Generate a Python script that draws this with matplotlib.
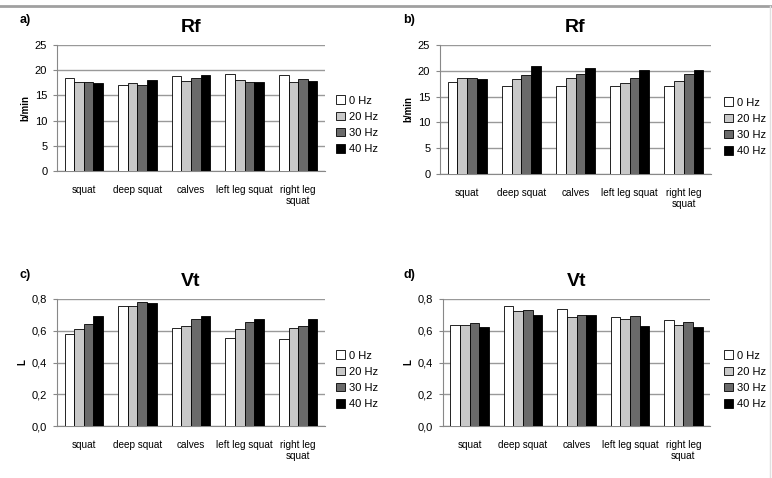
import matplotlib
matplotlib.use("Agg")
import matplotlib.pyplot as plt
import numpy as np
from matplotlib.patches import Patch

plt.rcParams['font.family'] = ['Liberation Sans', 'DejaVu Sans']

categories = ["squat", "deep squat", "calves", "left leg squat", "right leg\nsquat"]
series = ["0 Hz", "20 Hz", "30 Hz", "40 Hz"]
colors = ["#ffffff", "#c8c8c8", "#6a6a6a", "#000000"]

# values per category: [0 Hz, 20 Hz, 30 Hz, 40 Hz]
rf_a = [[18.5, 17.6, 17.6, 17.4],
        [17.1, 17.5, 17.1, 18.0],
        [18.8, 17.8, 18.4, 19.0],
        [19.2, 18.1, 17.7, 17.6],
        [19.0, 17.7, 18.2, 17.9]]
rf_b = [[17.9, 18.6, 18.6, 18.5],
        [17.1, 18.5, 19.2, 20.9],
        [17.1, 18.6, 19.3, 20.5],
        [17.1, 17.7, 18.6, 20.2],
        [17.0, 18.0, 19.3, 20.2]]
vt_c = [[0.581, 0.612, 0.642, 0.693],
        [0.758, 0.754, 0.781, 0.777],
        [0.616, 0.631, 0.676, 0.696],
        [0.555, 0.612, 0.657, 0.674],
        [0.547, 0.616, 0.632, 0.674]]
vt_d = [[0.635, 0.635, 0.647, 0.625],
        [0.755, 0.727, 0.731, 0.697],
        [0.740, 0.688, 0.701, 0.697],
        [0.686, 0.675, 0.690, 0.632],
        [0.666, 0.636, 0.655, 0.625]]

rf_ticks = [0, 5, 10, 15, 20, 25]
rf_ticklabels = ["0", "5", "10", "15", "20", "25"]
vt_ticks = [0.0, 0.2, 0.4, 0.6, 0.8]
vt_ticklabels = ["0,0", "0,2", "0,4", "0,6", "0,8"]

fig = plt.figure(figsize=(7.72, 4.78), dpi=100)
W, H = 772, 478

def ax_rect(l, r, top, bot):
    return [l / W, 1 - bot / H, (r - l) / W, (bot - top) / H]

panels = [
    ("a)", "Rf", rf_a, rf_ticks, rf_ticklabels, 25, "b/min", ax_rect(57, 325, 45, 171), (338, 99), (20, 20)),
    ("b)", "Rf", rf_b, rf_ticks, rf_ticklabels, 25, "b/min", ax_rect(440, 711, 45, 174), (726, 101), (403, 20)),
    ("c)", "Vt", vt_c, vt_ticks, vt_ticklabels, 0.8, "L", ax_rect(57, 325, 299, 426), (338, 354), (20, 275)),
    ("d)", "Vt", vt_d, vt_ticks, vt_ticklabels, 0.8, "L", ax_rect(443, 710, 299, 426), (726, 354), (403, 275)),
]

x = np.arange(len(categories))
bw = 0.18
for label, title, data, ticks, tlabels, ymax, ylab, rect, legpos, labpos in panels:
    ax = fig.add_axes(rect)
    arr = np.array(data)
    for i, s in enumerate(series):
        ax.bar(x + (i - 1.5) * bw, arr[:, i], width=bw, color=colors[i],
               edgecolor="black", linewidth=0.6, zorder=3)
    ax.set_xlim(-0.5, len(categories) - 0.5)
    ax.set_ylim(0, ymax)
    ax.set_yticks(ticks)
    ax.set_yticklabels(tlabels, fontsize=8)
    ax.set_xticks(x)
    ax.set_xticklabels(categories, fontsize=7.2)
    ax.tick_params(axis='x', length=0, pad=10)
    ax.tick_params(axis='y', length=3, color="#888888", pad=4)
    ax.yaxis.grid(True, color="#999999", linewidth=1.0, zorder=0)
    ax.set_axisbelow(True)
    for sp in ["top", "right"]:
        ax.spines[sp].set_visible(False)
    ax.spines["left"].set_color("#888888")
    ax.spines["bottom"].set_color("#888888")
    ax.set_ylabel(ylab, fontsize=7, fontweight="bold", labelpad=3)
    ax.set_title(title, fontsize=14, fontweight="bold", pad=9)
    fig.text(labpos[0] / W, 1 - labpos[1] / H, label, fontsize=9, fontweight="bold",
             ha="left", va="center")
    handles = [Patch(facecolor=colors[i], edgecolor="black", linewidth=0.6) for i in range(4)]
    fig.legend(handles, series, loc="upper left",
               bbox_to_anchor=((legpos[0] - 6) / W, 1 - (legpos[1] - 8) / H),
               frameon=False, fontsize=8, handlelength=0.8, handleheight=0.8,
               handletextpad=0.3, labelspacing=0.55, borderaxespad=0)

# decorative frame lines
fig.add_artist(plt.Line2D([0, 1], [1 - 6 / H, 1 - 6 / H], color="#a0a0a0", linewidth=2, transform=fig.transFigure))
fig.add_artist(plt.Line2D([1 - 2 / W, 1 - 2 / W], [0, 1 - 6 / H], color="#e0e0e0", linewidth=1, transform=fig.transFigure))

fig.savefig("out.png", dpi=100, facecolor="white")
